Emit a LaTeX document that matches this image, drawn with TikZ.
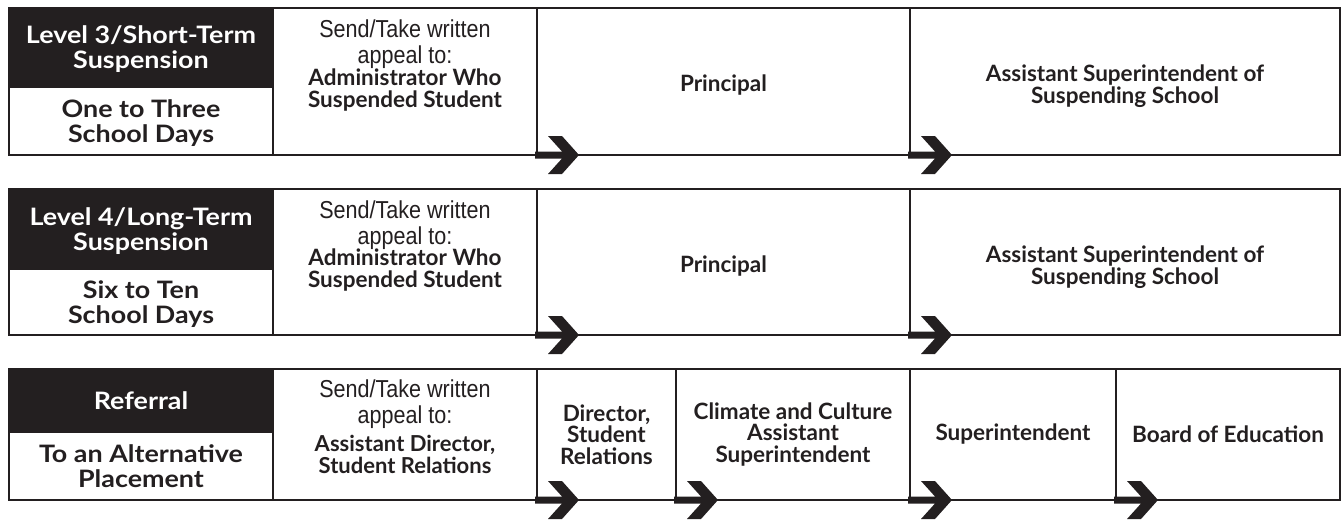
\documentclass[tikz,border=0pt]{standalone}
\usepackage{fontspec}
\setmainfont{Lato}
\newfontfamily\condfont[FakeStretch=0.88]{Liberation Sans}
\newfontfamily\widefont[FakeStretch=1.12]{Lato}
\definecolor{ink}{HTML}{231F20}
\newcommand\chevron[1]{\fill[ink] (#1) ++(-2,-3.5) -- ++(27,0) -- ++(-14,-15.5) -- ++(14,0) -- ++(17,19) -- ++(-17,19) -- ++(-14,0) -- ++(14,-15.5) -- ++(-27,0) -- cycle;}

\begin{document}
\begin{tikzpicture}[x=1pt,y=-1pt,
    cell/.style={draw=ink,line width=2.4pt,anchor=north west,inner sep=0pt,outer sep=0pt,align=center,text=ink,font=\bfseries\fontsize{22.5}{22}\selectfont},
    headbox/.style={cell,fill=ink,text=white,text depth=0pt,font=\widefont\bfseries\fontsize{24}{25}\selectfont},
    subbox/.style={cell,text depth=0pt,font=\widefont\bfseries\fontsize{24}{25}\selectfont},
    small/.style={cell,font=\bfseries\fontsize{22.5}{21.5}\selectfont},
    label/.style={align=center,inner sep=0pt,text=ink,font=\bfseries\fontsize{22.5}{22}\selectfont},
    appealtext/.style={align=center,inner sep=0pt,text=ink,font=\fontsize{24.5}{22}\selectfont}]
    \useasboundingbox (0,0) rectangle (1341,523);
    \node[headbox,minimum width=264pt,minimum height=79pt] (h1) at (9,8) {Level 3/Short-Term\\Suspension};
    \node[subbox,minimum width=264pt,minimum height=68pt] (s1) at (9,87) {One to Three\\School Days};
    \node[cell,minimum width=264pt,minimum height=147pt] (ap1) at (273,8) {};
    \node[cell,minimum width=373pt,minimum height=147pt] (p1) at (537,8) {};
    \node[cell,minimum width=430pt,minimum height=147pt] (as1) at (910,8) {};
    \node[appealtext] (t1) at ([yshift=16pt]ap1.center) {\condfont Send/Take written\\[4pt]\condfont appeal to:\\\bfseries\fontsize{22.5}{22}\selectfont Administrator Who\\\bfseries\fontsize{22.5}{22}\selectfont Suspended Student};
    \node[label] (l1) at ([yshift=-4pt]p1.center) {Principal};
    \node[label] (m1) at ([yshift=-5pt]as1.center) {Assistant Superintendent of\\Suspending School};

    \node[headbox,minimum width=264pt,minimum height=80pt] (h2) at (9,189) {Level 4/Long-Term\\Suspension};
    \node[subbox,minimum width=264pt,minimum height=66pt] (s2) at (9,269) {Six to Ten\\School Days};
    \node[cell,minimum width=264pt,minimum height=146pt] (ap2) at (273,189) {};
    \node[cell,minimum width=373pt,minimum height=146pt] (p2) at (537,189) {};
    \node[cell,minimum width=430pt,minimum height=146pt] (as2) at (910,189) {};
    \node[appealtext] (t2) at ([yshift=16pt]ap2.center) {\condfont Send/Take written\\[4pt]\condfont appeal to:\\\bfseries\fontsize{22.5}{22}\selectfont Administrator Who\\\bfseries\fontsize{22.5}{22}\selectfont Suspended Student};
    \node[label] (l2) at ([yshift=-4pt]p2.center) {Principal};
    \node[label] (m2) at ([yshift=-5pt]as2.center) {Assistant Superintendent of\\Suspending School};

    \node[headbox,minimum width=264pt,minimum height=63pt] (h3) at (9,369) {Referral};
    \node[subbox,minimum width=264pt,minimum height=68pt] (s3) at (9,432) {To an Alternative\\Placement};
    \node[cell,minimum width=264pt,minimum height=131pt] (ap3) at (273,369) {};
    \node[small,minimum width=139pt,minimum height=131pt] (dr3) at (537,369) {Director,\\Student\\Relations};
    \node[small,minimum width=234pt,minimum height=131pt] (cc3) at (676,369) {Climate and Culture\\Assistant\\Superintendent};
    \node[small,minimum width=206pt,minimum height=131pt] (su3) at (910,369) {Superintendent};
    \node[small,minimum width=224pt,minimum height=131pt] (bo3) at (1116,369) {Board of Education};
    \node[appealtext] (t3) at ([yshift=8pt]ap3.center) {\condfont Send/Take written\\[4pt]\condfont appeal to:\\[6pt]\bfseries\fontsize{22}{22}\selectfont Assistant Director,\\\bfseries\fontsize{22}{22}\selectfont Student Relations};

    \foreach \c in {p1,as1,p2,as2,dr3,cc3,su3,bo3} {\chevron{\c.south west}}
\end{tikzpicture}
\end{document}
